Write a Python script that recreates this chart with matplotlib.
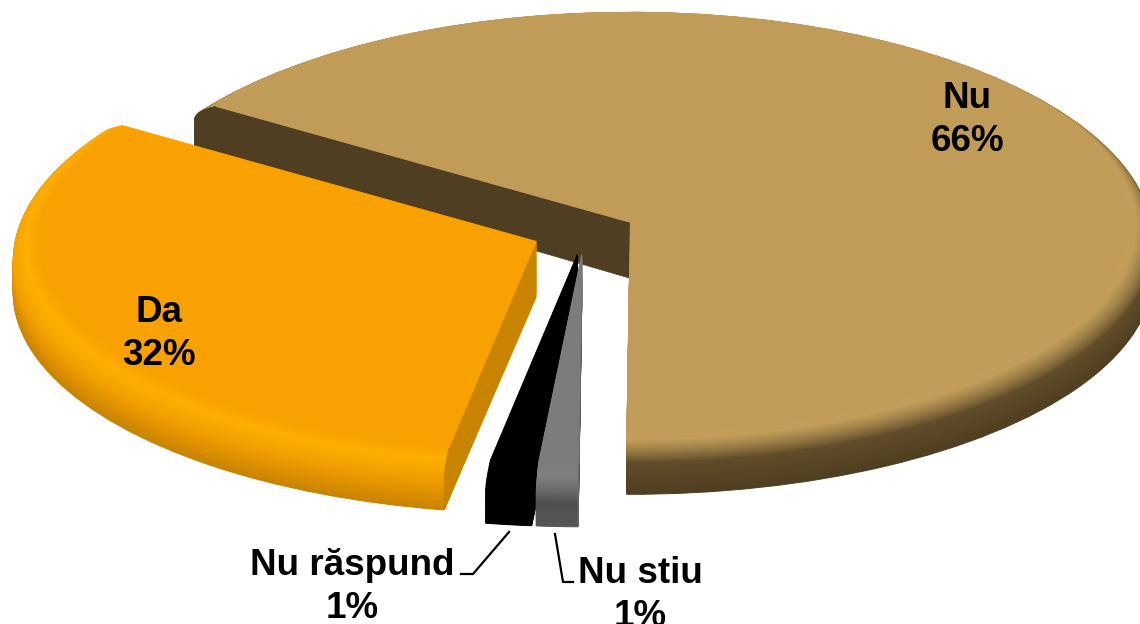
import numpy as np
import matplotlib
matplotlib.use('Agg')
import matplotlib.pyplot as plt
from matplotlib.colors import LinearSegmentedColormap
from matplotlib.patches import Polygon

plt.rcParams['font.family'] = ['Liberation Sans', 'DejaVu Sans']

# Angular shares as they are drawn (the printed labels are rounded)
shares = [65.8, 31.5, 1.42, 1.28]
labels = ['Nu\n66%', 'Da\n32%', 'Nu răspund\n1%', 'Nu stiu\n1%']
label_pos = [(967, 120), (159, 334), (352, 587), (640, 595)]
explode = [0.1, 0.1, 0.1, 0.1]

top_colors = ['#C19C58', '#F9A100', '#000000', '#7C7C7C']
cut_colors = ['#4F3E22', '#C88400', '#000000', '#6A6A6A']
rim_stops = [
    [(0, '#C19C58'), (0.08, '#C39E5A'), (0.38, '#624D2A'), (1, '#4F3E20')],
    [(0, '#F9A100'), (0.12, '#FFAE00'), (0.55, '#EA9800'), (1, '#C88400')],
    [(0, '#000000'), (1, '#000000')],
    [(0, '#7C7C7C'), (0.12, '#808080'), (0.55, '#4F4F4F'), (1, '#565656')],
]

# leader lines in pixels
leader_a = [(509, 532), (473, 574), (461, 574)]
leader_b = [(555, 534), (563, 582), (573, 582)]

# pie geometry in pixels
W, H = 1140, 624
cx, cy = 584.2, 232.7
rx, ry = 523, 221
depth = 51
apex_depth = 56
n_layers = 40
flat_r = 0.95
start = -90.4


def profile(t):
    """radius of the rounded rim at depth fraction t"""
    s = min(t / 0.4, 1)
    return flat_r + (1 - flat_r) * (1 - (1 - s) ** 2)


def one_wedge(ax, i, r, d, color):
    wedges, _ = ax.pie(shares, explode=explode, startangle=start, radius=r,
                       center=(0, -d / ry), colors=[color] * len(shares),
                       labeldistance=None,
                       wedgeprops=dict(linewidth=0.7, edgecolor=color))
    for j, w in enumerate(wedges):
        if j != i:
            w.remove()
    return wedges[i]


fig = plt.figure(figsize=(W / 100, H / 100), dpi=100)
ax = fig.add_axes([0, 0, 1, 1])

ts = np.linspace(1, 0, n_layers)
for i in range(len(shares)):
    cmap = LinearSegmentedColormap.from_list('rim%d' % i, rim_stops[i])
    for t in ts[:-1]:
        w = one_wedge(ax, i, profile(t), depth * t, cmap(t))

    # cut face along the second edge of the slice
    a = np.deg2rad(w.theta2)
    x0 = w.center[0]
    y0 = w.center[1] + depth * ts[-2] / ry
    pts = [(x0, y0), (x0, y0 - apex_depth / ry)]
    for t in ts:
        pts.append((x0 + profile(t) * np.cos(a),
                    y0 + profile(t) * np.sin(a) - depth * t / ry))
    ax.add_patch(Polygon(pts, closed=True, facecolor=cut_colors[i],
                         edgecolor=cut_colors[i], linewidth=0.5))

    # flat top of the slice
    one_wedge(ax, i, flat_r, 0, top_colors[i])

ax.set_aspect('auto')
ax.set_xlim(-cx / rx, (W - cx) / rx)
ax.set_ylim((cy - H) / ry, cy / ry)
ax.axis('off')

# labels and leader lines use a pixel axes on top
ax_px = fig.add_axes([0, 0, 1, 1])
ax_px.set_xlim(0, W)
ax_px.set_ylim(H, 0)
ax_px.axis('off')

for line in [leader_a, leader_b]:
    xs, ys = zip(*line)
    ax_px.plot(xs, ys, color='black', linewidth=1.6)

for text, (x, y) in zip(labels, label_pos):
    ax_px.text(x, y, text, ha='center', va='center', fontsize=26.5,
               fontweight='bold', color='black', linespacing=1.28)

fig.savefig('out.png', dpi=100, facecolor='white')
